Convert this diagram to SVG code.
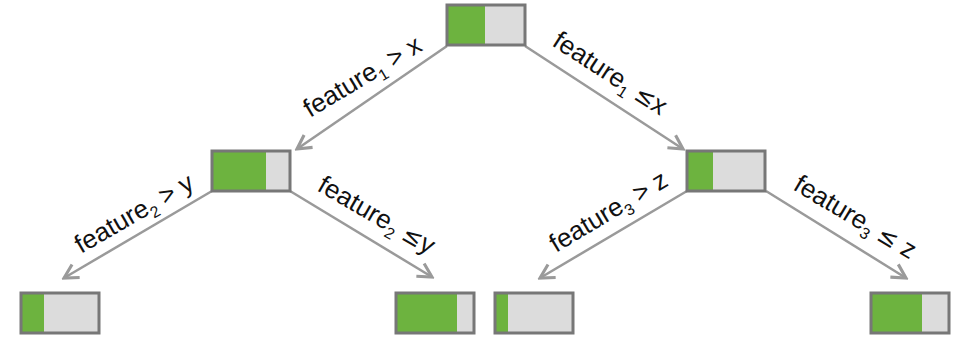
<svg xmlns="http://www.w3.org/2000/svg" width="966" height="339" viewBox="0 0 966 339">
  <style>
    .bar { fill: #dcdcdc; }
    .hit { fill: #6db33f; }
    .frame { fill: none; stroke: #777777; stroke-width: 3; }
    .edge { fill: none; stroke: #9a9a9a; stroke-width: 2.5; marker-end: url(#chev); }
    .lbl { font-family: "Liberation Sans", Arial, sans-serif; font-size: 26px; fill: #111111; }
    .sub { font-size: 16px; }
    .op { font-family: "DejaVu Sans", sans-serif; font-size: 24px; }
  </style>
  <defs>
    <marker id="chev" markerUnits="userSpaceOnUse" markerWidth="20" markerHeight="20" viewBox="-14 -8 16 16" refX="0" refY="0" orient="auto">
      <path d="M-11,-6 L0,0 L-11,6" fill="none" stroke="#9a9a9a" stroke-width="2.5" stroke-linejoin="miter"/>
    </marker>
  </defs>

  <g id="connectors">
    <line class="edge" x1="447" y1="46" x2="297" y2="149"/>
    <line class="edge" x1="525" y1="46" x2="683" y2="149"/>
    <line class="edge" x1="212" y1="191" x2="64" y2="278"/>
    <line class="edge" x1="290" y1="191" x2="432" y2="277"/>
    <line class="edge" x1="687" y1="191" x2="540" y2="278"/>
    <line class="edge" x1="766" y1="191" x2="906" y2="278"/>
  </g>

  <g id="labels">
    <text class="lbl" transform="translate(310,118) rotate(-31)">feature<tspan class="sub" dy="6">1</tspan><tspan dy="-6"> &gt; x</tspan></text>
    <text class="lbl" transform="translate(551,45) rotate(33)">feature<tspan class="sub" dy="6">1</tspan><tspan dy="-6"> </tspan><tspan class="op">≤</tspan>x</text>
    <text class="lbl" transform="translate(81,254) rotate(-30)">feature<tspan class="sub" dy="6">2</tspan><tspan dy="-6"> &gt; y</tspan></text>
    <text class="lbl" transform="translate(316,190) rotate(30)">feature<tspan class="sub" dy="6">2</tspan><tspan dy="-6"> </tspan><tspan class="op">≤</tspan>y</text>
    <text class="lbl" transform="translate(556,253) rotate(-31)">feature<tspan class="sub" dy="6">3</tspan><tspan dy="-6"> &gt; z</tspan></text>
    <text class="lbl" transform="translate(792,189) rotate(31)">feature<tspan class="sub" dy="6">3</tspan><tspan dy="-6"> </tspan><tspan class="op">≤</tspan> z</text>
  </g>

  <g id="root">
    <rect class="bar" x="447" y="5" width="78" height="40"/>
    <rect class="hit" x="447" y="5" width="38" height="40"/>
    <rect class="frame" x="447" y="5" width="78" height="40"/>
  </g>
  <g id="split-left">
    <rect class="bar" x="212" y="151" width="78" height="40"/>
    <rect class="hit" x="212" y="151" width="54" height="40"/>
    <rect class="frame" x="212" y="151" width="78" height="40"/>
  </g>
  <g id="split-right">
    <rect class="bar" x="687" y="151" width="78" height="40"/>
    <rect class="hit" x="687" y="151" width="26" height="40"/>
    <rect class="frame" x="687" y="151" width="78" height="40"/>
  </g>
  <g id="leaf-1">
    <rect class="bar" x="21" y="293" width="78" height="40"/>
    <rect class="hit" x="21" y="293" width="23" height="40"/>
    <rect class="frame" x="21" y="293" width="78" height="40"/>
  </g>
  <g id="leaf-2">
    <rect class="bar" x="396" y="293" width="78" height="40"/>
    <rect class="hit" x="396" y="293" width="61" height="40"/>
    <rect class="frame" x="396" y="293" width="78" height="40"/>
  </g>
  <g id="leaf-3">
    <rect class="bar" x="495" y="293" width="78" height="40"/>
    <rect class="hit" x="495" y="293" width="13" height="40"/>
    <rect class="frame" x="495" y="293" width="78" height="40"/>
  </g>
  <g id="leaf-4">
    <rect class="bar" x="871" y="293" width="78" height="40"/>
    <rect class="hit" x="871" y="293" width="51" height="40"/>
    <rect class="frame" x="871" y="293" width="78" height="40"/>
  </g>
</svg>
